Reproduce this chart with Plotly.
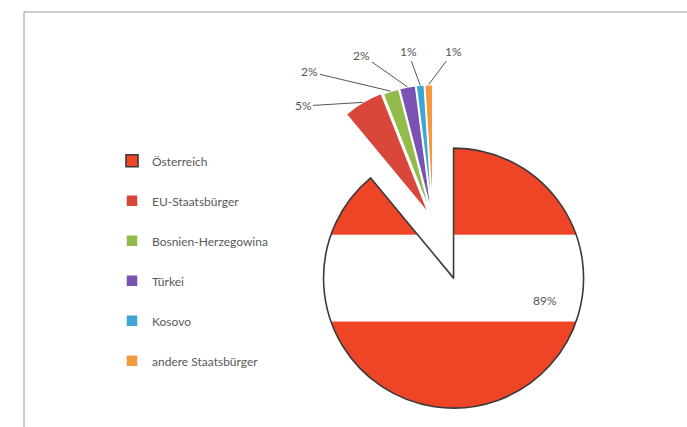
import math
import plotly.graph_objects as go

# ---- data ----
categories = ["Österreich", "EU-Staatsbürger", "Bosnien-Herzegowina", "Türkei", "Kosovo", "andere Staatsbürger"]
shares = [89, 5, 2, 2, 1, 1]
slice_colors = ["#ee4526", "#d9473b", "#93bb4c", "#7a52b3", "#3ea6d4", "#f49a3c"]

# ---- geometry (pixels) ----
W, H = 687, 427
CX, CY, R = 433.0, 221.0, 130.0
pulls = [0.467, 0.06, 0.05, 0.05, 0.05, 0.05]
half = R * (1 + max(pulls))
dom_x = [(CX - half) / W, (CX + half) / W]
dom_y = [1 - (CY + half) / H, 1 - (CY - half) / H]

total = sum(shares)
mids = []
acc = 0
for v in shares:
    a0 = acc / total * 360
    acc += v
    a1 = acc / total * 360
    mids.append((a0 + a1) / 2)


def unit(deg):
    return math.sin(math.radians(deg)), -math.cos(math.radians(deg))


mux, muy = unit(mids[0])
main_cx = CX + pulls[0] * R * mux
main_cy = CY + pulls[0] * R * muy

# Austrian flag stripe on the main slice (pattern anchored to page origin)
pat_size = 2 * main_cy
solidity = (2 * R / 3) / pat_size

legend_labels = ["<span style='font-size:12px'>%s</span><br>\u00a0" % c for c in categories]

fig = go.Figure()
fig.add_trace(go.Pie(
    labels=legend_labels,
    values=shares,
    sort=False,
    direction="clockwise",
    rotation=0,
    pull=pulls,
    domain=dict(x=dom_x, y=dom_y),
    textinfo="none",
    hoverinfo="skip",
    marker=dict(
        colors=slice_colors,
        line=dict(color=["#3a3a3a", "white", "white", "white", "white", "white"],
                  width=[1.6, 1.5, 1.5, 1.5, 1.5, 1.5]),
        pattern=dict(shape=["-", "", "", "", "", ""], size=pat_size, solidity=solidity,
                     bgcolor=slice_colors[0], fgcolor="white", fillmode="replace"),
    ),
    showlegend=True,
))

# percentage labels
label_pos = [(545, 300), (303, 106), (310, 72), (362, 55), (408, 52), (453, 52)]
annotations = []
for i, v in enumerate(shares):
    txt = "%d%%" % round(v / total * 100)
    lx, ly = label_pos[i]
    if i == 0:
        annotations.append(dict(x=lx / W, y=1 - ly / H, xref="paper", yref="paper", text=txt,
                                showarrow=False, xanchor="center", yanchor="middle",
                                font=dict(family="Lato", size=12, color="#555555")))
    else:
        ux, uy = unit(mids[i])
        hx = CX + (1 + pulls[i]) * R * ux
        hy = CY + (1 + pulls[i]) * R * uy
        annotations.append(dict(x=hx / W, y=1 - hy / H, xref="paper", yref="paper", text=txt,
                                showarrow=True, arrowhead=0, arrowwidth=1, arrowcolor="#555555",
                                ax=lx - hx, ay=ly - hy, standoff=0,
                                font=dict(family="Lato", size=12, color="#555555")))

shapes = [
    dict(type="line", xref="paper", yref="paper", x0=24 / W, y0=1 - 12 / H, x1=1.02, y1=1 - 12 / H,
         line=dict(color="#9a9a9a", width=1)),
    dict(type="line", xref="paper", yref="paper", x0=24 / W, y0=1 - 12 / H, x1=24 / W, y1=-0.02,
         line=dict(color="#9a9a9a", width=1)),
]

fig.update_layout(
    width=W, height=H,
    margin=dict(l=0, r=0, t=0, b=0, autoexpand=False),
    paper_bgcolor="white", plot_bgcolor="white",
    annotations=annotations,
    shapes=shapes,
    legend=dict(x=112 / W, y=1 - 145 / H, xanchor="left", yanchor="top",
                font=dict(family="Lato", size=14.23, color="#595959"),
                valign="top", bgcolor="rgba(0,0,0,0)", traceorder="normal"),
)

fig.write_html("out.html",
               config={"displayModeBar": False},
               post_script="document.body.style.margin='0';document.body.style.overflow='hidden';")
